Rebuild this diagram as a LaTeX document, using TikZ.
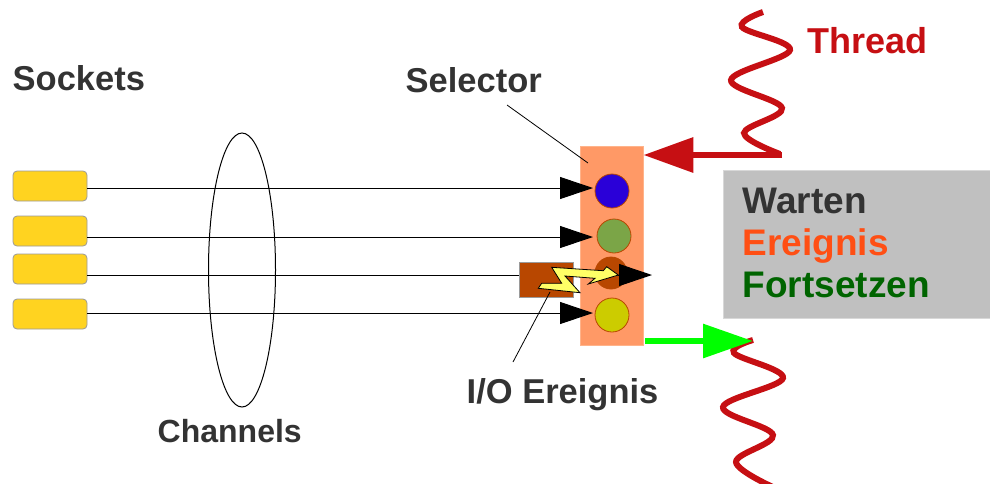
\documentclass[tikz,border=0pt]{standalone}
\usepackage{fontspec}
\setmainfont{Liberation Sans}
\usetikzlibrary{arrows.meta}
\definecolor{txt}{HTML}{333333}
\definecolor{sockfill}{HTML}{FFD320}
\definecolor{sockedge}{HTML}{9A9A9A}
\definecolor{selfill}{HTML}{FF9966}
\definecolor{seledge}{HTML}{FFB38A}
\definecolor{brownc}{HTML}{B84700}
\definecolor{bluec}{HTML}{2A00D8}
\definecolor{greenc}{HTML}{7BA547}
\definecolor{yellowc}{HTML}{CCCC00}
\definecolor{boltfill}{HTML}{FFFF66}
\definecolor{grayfill}{HTML}{C0C0C0}
\definecolor{grayedge}{HTML}{D8D8D8}
\definecolor{threadred}{HTML}{C60F13}
\definecolor{goon}{HTML}{00FF00}
\definecolor{evorange}{HTML}{FF4F14}
\definecolor{contgreen}{HTML}{006400}
\begin{document}
\begin{tikzpicture}[x=1pt,y=-1pt,
  lbl/.style={anchor=base west, inner sep=0pt, font=\fontsize{34.5}{40}\selectfont\bfseries, text=txt},
  biglbl/.style={lbl, font=\fontsize{37}{42}\selectfont\bfseries},
  sock/.style={draw=sockedge, fill=sockfill, rounded corners=4pt, minimum width=74pt, minimum height=30pt, inner sep=0pt, line width=0.8pt},
  chan/.style={draw=black, line width=1pt, -{Triangle[length=33pt,width=22pt]}},
  dot/.style={circle, draw=brownc, line width=0.8pt, minimum size=34pt, inner sep=0pt},
  thread/.style={draw=threadred, line width=6pt},
]
\useasboundingbox (0,0) rectangle (990,483);

% labels
\node[lbl] (sockets) at (12.5,90) {Sockets};
\node[lbl] (sellbl) at (405.5,92) {Selector};
\node[lbl, font=\fontsize{36}{40}\selectfont\bfseries, text=threadred] (threadlbl) at (807,53) {Thread};
\node[lbl, font=\fontsize{32}{38}\selectfont\bfseries] (channels) at (157.5,442) {Channels};
\node[lbl] (iolbl) at (466.5,403) {I/O Ereignis};

% channels ellipse
\draw[line width=1pt] (242,270) ellipse [x radius=33.5, y radius=137];

% sockets
\node[sock] (s1) at (50,186) {};
\node[sock] (s2) at (50,231) {};
\node[sock] (s3) at (50,269) {};
\node[sock] (s4) at (50,314) {};

% selector
\node[draw=seledge, fill=selfill, line width=0.8pt, minimum width=63pt, minimum height=199pt, inner sep=0pt] (sel) at (611.5,245.5) {};
\node[dot, fill=bluec] (c1) at (612,191) {};
\node[dot, fill=greenc] (c2) at (614,236) {};
\node[dot, fill=brownc, minimum size=32pt] (c3) at (611,273) {};
\node[dot, fill=yellowc] (c4) at (612,315) {};

% channel lines
\coordinate (a1) at (593,188);
\coordinate (a2) at (593,237);
\coordinate (a3) at (652,275);
\coordinate (a4) at (593,313);
\draw[chan] (s1.east |- a1) -- (a1);
\draw[chan] (s2.east |- a2) -- (a2);
\draw[chan] (s3.east |- a3) -- (a3);
\draw[chan] (s4.east |- a4) -- (a4);

% I/O event box and bolt
\node[draw=sockedge, fill=brownc, line width=0.8pt, minimum width=54pt, minimum height=35pt, inner sep=0pt] (io) at (546,279.5) {};
\filldraw[fill=boltfill, draw=black, line width=0.8pt]
  (551.7,267.3) -- (603.3,270.7) -- (606.7,266.7) -- (618.3,275) -- (588.3,284) -- (595,278.3)
  -- (565,276) -- (580,292.7) -- (538.3,288.3) -- (541.7,283.3) -- (561.7,283.3) -- cycle;

% label pointers
\coordinate (selp1) at (507,105);
\coordinate (selp2) at (588,163);
\draw[line width=0.8pt] (selp1) -- (selp2);
\coordinate (iop1) at (513,362);
\coordinate (iop2) at (550,292);
\draw[line width=0.8pt] (iop1) -- (iop2);

% gray box
\node[draw=grayedge, fill=grayfill, line width=0.8pt, minimum width=267pt, minimum height=148pt, inner sep=0pt] (gb) at (856.5,244) {};
\node[biglbl] (warten) at (742.5,213) {Warten};
\node[biglbl, text=evorange] (ereignis) at (742.5,255) {Ereignis};
\node[biglbl, text=contgreen] (fortsetzen) at (742.5,297) {Fortsetzen};

% threads
\draw[thread] plot[smooth, tension=0.6] coordinates {(763,12) (742,27) (790,50) (731,80) (782,108) (744,133) (780,154)};
\draw[thread] plot[smooth, tension=0.6] coordinates {(753,340) (734,353) (783,378) (723,407) (773,435) (736,462) (775,488)};

% thread arrows
\coordinate (t1end) at (782,155);
\draw[draw=threadred, line width=6.5pt, -{Triangle[length=50pt,width=34pt]}] (t1end) -- (sel.east |- t1end);
\coordinate (t2start) at (753,341);
\draw[draw=goon, line width=6pt, -{Triangle[length=50pt,width=33pt]}] (sel.east |- t2start) ++(2,0) -- (t2start);
\end{tikzpicture}
\end{document}
